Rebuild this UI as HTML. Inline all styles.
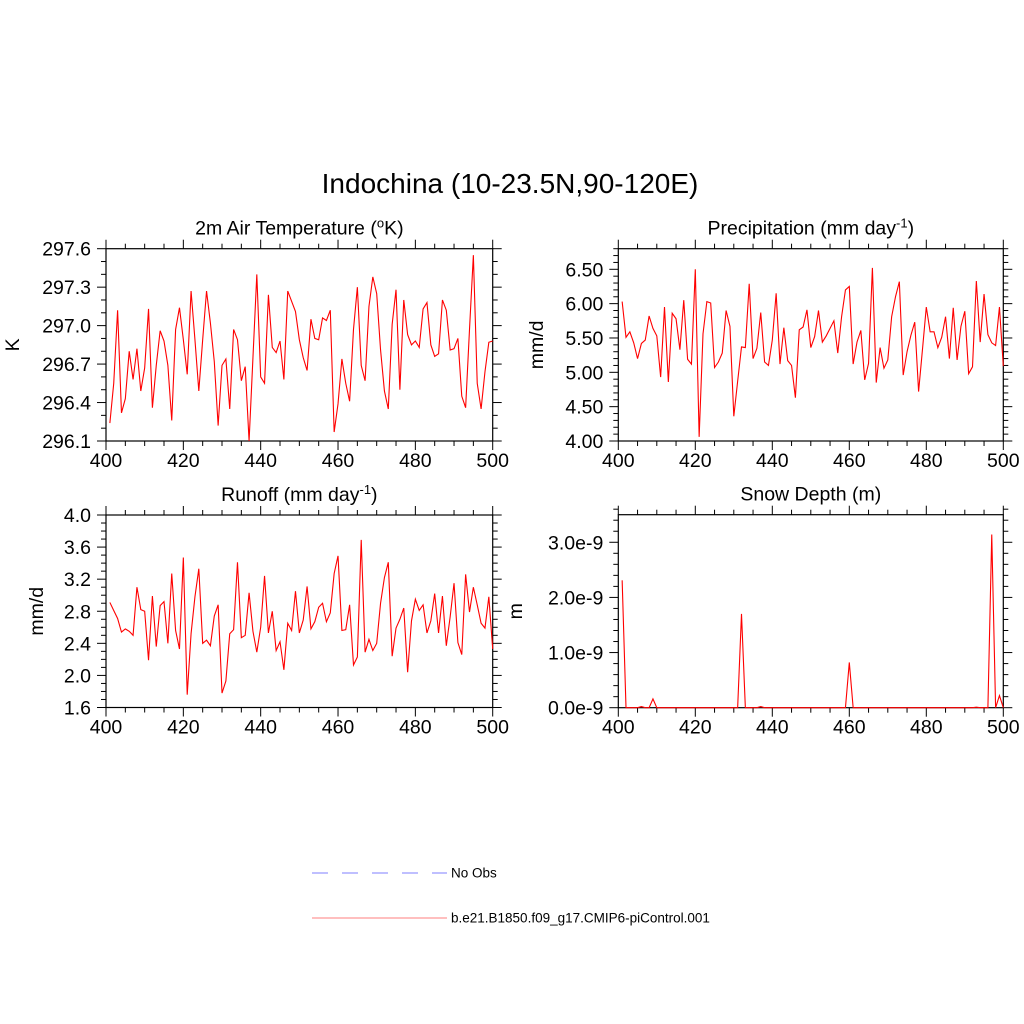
<!DOCTYPE html>
<html><head><meta charset="utf-8">
<style>
html,body{margin:0;padding:0;background:#fff;}
svg{display:block;font-family:"Liberation Sans",sans-serif;}
</style></head>
<body>
<svg id="chart" width="1024" height="1024" viewBox="0 0 1024 1024">
<rect width="1024" height="1024" fill="#fff"/>
<text x="510" y="193" font-size="28" text-anchor="middle">Indochina (10-23.5N,90-120E)</text>
<g>
<line x1="312" y1="873" x2="447" y2="873" stroke="#9999ff" stroke-width="1.2" stroke-dasharray="16,14"/>
<text x="451" y="877.5" font-size="13.5">No Obs</text>
<line x1="312" y1="918" x2="447" y2="918" stroke="#ff9999" stroke-width="1.2"/>
<text x="451" y="922.5" font-size="13.5">b.e21.B1850.f09_g17.CMIP6-piControl.001</text>
</g>
</svg>
<script>
const years = [];
for (let y = 401; y <= 500; y++) years.push(y);
const tempValues = [296.24,296.55,297.12,296.32,296.43,296.80,296.58,296.82,296.49,296.67,297.13,296.36,296.69,296.96,296.88,296.69,296.26,296.97,297.14,296.89,296.62,297.27,296.89,296.49,296.89,297.27,297.02,296.72,296.22,296.69,296.74,296.35,296.97,296.89,296.57,296.68,296.10,296.75,297.40,296.60,296.55,297.24,296.83,296.79,296.88,296.58,297.27,297.19,297.11,296.89,296.75,296.65,297.05,296.90,296.89,297.06,297.04,297.12,296.17,296.39,296.74,296.55,296.41,296.97,297.30,296.69,296.57,297.15,297.38,297.25,296.81,296.49,296.35,297.01,297.28,296.50,297.20,296.93,296.85,296.88,296.83,297.13,297.18,296.85,296.76,296.78,297.20,297.12,296.81,296.82,296.90,296.45,296.36,296.97,297.55,296.55,296.35,296.64,296.87,296.88];
const precipValues = [6.03,5.51,5.59,5.43,5.20,5.42,5.47,5.82,5.64,5.53,4.93,5.95,4.86,5.86,5.78,5.33,6.05,5.19,5.12,6.50,4.06,5.56,6.03,6.01,5.07,5.15,5.28,5.90,5.67,4.36,4.87,5.37,5.36,6.29,5.20,5.35,5.87,5.15,5.10,5.47,6.15,5.12,5.65,5.17,5.10,4.63,5.62,5.66,5.91,5.36,5.52,5.90,5.44,5.53,5.64,5.75,5.28,5.81,6.20,6.25,5.12,5.44,5.61,4.89,5.13,6.52,4.85,5.36,5.06,5.18,5.81,6.10,6.32,4.96,5.30,5.54,5.73,4.72,5.33,5.95,5.59,5.59,5.36,5.51,5.81,5.20,5.94,5.18,5.67,5.89,4.98,5.08,6.33,5.44,6.14,5.55,5.43,5.39,5.95,5.09];
const runoffValues = [2.91,2.81,2.71,2.54,2.58,2.55,2.50,3.10,2.82,2.80,2.19,2.99,2.36,2.87,2.92,2.40,3.27,2.56,2.33,3.47,1.76,2.52,2.98,3.33,2.40,2.44,2.37,2.74,2.88,1.78,1.93,2.52,2.57,3.41,2.47,2.50,3.03,2.55,2.29,2.60,3.24,2.53,2.80,2.31,2.42,2.07,2.65,2.56,3.05,2.53,2.69,3.11,2.58,2.67,2.85,2.90,2.67,2.78,3.27,3.49,2.56,2.57,2.88,2.13,2.23,3.69,2.29,2.45,2.31,2.40,2.90,3.22,3.41,2.24,2.59,2.70,2.84,2.04,2.68,2.95,2.81,2.88,2.53,2.68,3.02,2.53,2.99,2.37,2.73,3.15,2.41,2.26,3.26,2.79,3.10,2.88,2.65,2.59,2.98,2.33];
const snowValues = [2.31,0,0,0,0,0.02,0,0,0.16,0,0,0,0,0,0,0,0,0,0,0,0,0,0,0,0,0,0,0,0,0,0,1.70,0,0,0,0,0.02,0,0,0,0,0,0,0,0,0,0,0,0,0,0,0,0,0,0,0,0,0,0,0.82,0,0,0,0,0,0,0,0,0,0,0,0,0,0,0,0,0,0,0,0,0,0,0,0,0,0,0,0,0,0,0,0,0.01,0,0,0,3.14,0,0.22,0];
const xTicks = [400,420,440,460,480,500];
const tempTicks = ["297.6","297.3","297.0","296.7","296.4","296.1"];
const precipTicks = ["6.50","6.00","5.50","5.00","4.50","4.00"];
const runoffTicks = ["4.0","3.6","3.2","2.8","2.4","2.0","1.6"];
const snowTicks = ["3.0e-9","2.0e-9","1.0e-9","0.0e-9"];

const NS = "http://www.w3.org/2000/svg";
const svg = document.getElementById('chart');
function mk(tag, attrs, parent){
  const e = document.createElementNS(NS, tag);
  for (const k in attrs) e.setAttribute(k, attrs[k]);
  (parent||svg).appendChild(e);
  return e;
}
function panel(cfg){
  const g = mk('g', {});
  
  
  const L=cfg.x0, R=cfg.x1, T=cfg.y0, B=cfg.y1;
  const sx = v => L + (v-400)/100*(R-L);
  const sy = v => B - (v-cfg.ymin)/(cfg.ymax-cfg.ymin)*(B-T);
  for (let v=400; v<=500; v+=5){
    const maj = v%20===0, len = maj?9:5;
    mk('line',{x1:sx(v),x2:sx(v),y1:B,y2:B+len,stroke:'#000','stroke-width':1},g);
    mk('line',{x1:sx(v),x2:sx(v),y1:T,y2:T-len,stroke:'#000','stroke-width':1},g);
  }
  xTicks.forEach(v=>{
    const t = mk('text',{x:sx(v),y:B+26,'font-size':19.5,'text-anchor':'middle'},g);
    
    
    t.textContent = v;
  });
  const nMin = Math.round((cfg.ymax-cfg.ymin)/cfg.minor);
  for (let k=0;k<=nMin;k++){
    const v = cfg.ymin + k*cfg.minor;
    const q = (v-cfg.majorBase)/cfg.major;
    const maj = Math.abs(q - Math.round(q))<1e-6;
    const len = maj?9:5;
    mk('line',{x1:L,x2:L-len,y1:sy(v),y2:sy(v),stroke:'#000','stroke-width':1},g);
    mk('line',{x1:R,x2:R+len,y1:sy(v),y2:sy(v),stroke:'#000','stroke-width':1},g);
  }
  cfg.labels.forEach(lab=>{
    const v = parseFloat(lab) / (cfg.labelScale || 1);
    const yy = sy(v);
    const t = mk('text',{x:L-15,y:yy+7,'font-size':19.5,'text-anchor':'end'},g);
    
    
    t.textContent = lab;
  });
  const fr = mk('rect',{x:L,y:T,width:R-L,height:B-T,fill:'none',stroke:'#000','stroke-width':1.2},g);
  
  
  const d = cfg.values.map((v,i)=>(i?'L':'M')+sx(years[i]).toFixed(2)+','+sy(v).toFixed(2)).join(' ');
  const p = mk('path',{d:d,fill:'none',stroke:'#ff0000','stroke-width':1.1,'stroke-linejoin':'miter'},g);
  
  
  const yt = mk('text',{x:0,y:0,'font-size':19.5,'text-anchor':'middle',transform:`translate(${cfg.ytx},${(T+B)/2}) rotate(-90)`},g);
  
  
  yt.textContent = cfg.ytitle;
  const pt = mk('text',{x:(L+R)/2,y:T-14,'font-size':19.5,'text-anchor':'middle'},g);
  
  
  pt.innerHTML = cfg.title;
}
panel({name:'temperature-panel',x0:106,x1:492.7,y0:248.7,y1:441,ymin:296.1,ymax:297.6,minor:0.1,major:0.3,majorBase:296.1,labels:tempTicks,values:tempValues,ytitle:'K',ytx:19,title:'2m Air Temperature (<tspan baseline-shift="super" font-size="13">o</tspan>K)'});
panel({name:'precipitation-panel',x0:618.3,x1:1003.3,y0:248.7,y1:441,ymin:4.0,ymax:6.8,minor:0.1,major:0.5,majorBase:4.0,labels:precipTicks,values:precipValues,ytitle:'mm/d',ytx:543,title:'Precipitation (mm day<tspan baseline-shift="super" font-size="13">-1</tspan>)'});
panel({name:'runoff-panel',x0:106,x1:492.7,y0:515,y1:707.5,ymin:1.6,ymax:4.0,minor:0.1,major:0.4,majorBase:1.6,labels:runoffTicks,values:runoffValues,ytitle:'mm/d',ytx:43,title:'Runoff (mm day<tspan baseline-shift="super" font-size="13">-1</tspan>)'});
panel({name:'snow-depth-panel',x0:618.3,x1:1003.3,y0:514.7,y1:707.7,ymin:0,ymax:3.5,minor:0.2,major:1.0,majorBase:0,labelScale:1e-9,labels:snowTicks,values:snowValues,ytitle:'m',ytx:522,title:'Snow Depth (m)'});
</script>
</body></html>
